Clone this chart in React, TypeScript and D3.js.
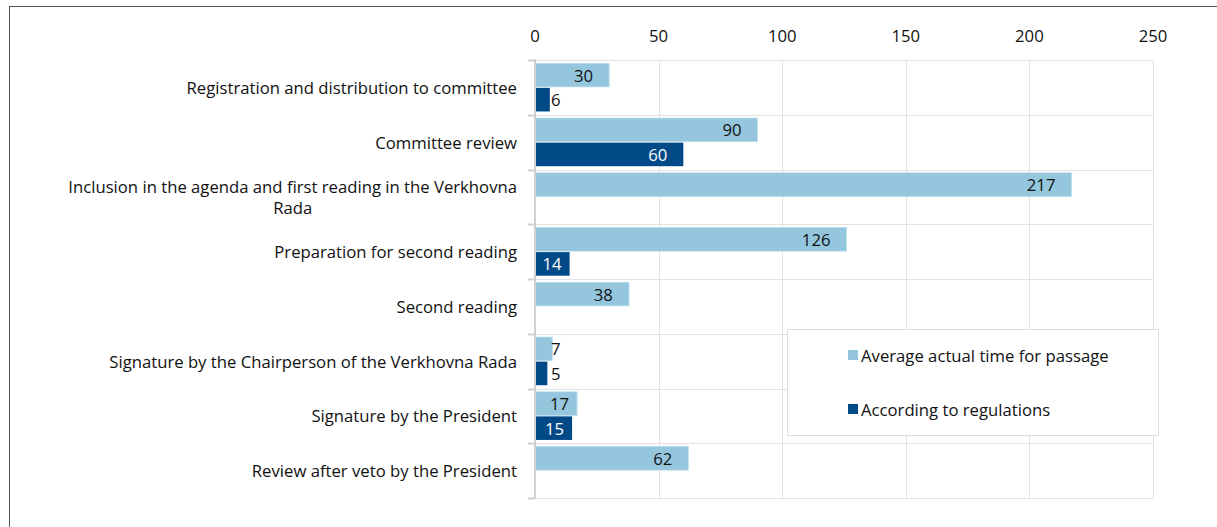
import React, { useEffect, useRef } from "react";
import * as d3 from "d3";

// Stages of the legislative process
const stages = [
  "Registration and distribution to committee",
  "Committee review",
  "Inclusion in the agenda and first reading in the Verkhovna Rada",
  "Preparation for second reading",
  "Second reading",
  "Signature by the Chairperson of the Verkhovna Rada",
  "Signature by the President",
  "Review after veto by the President",
];

// Days per stage
const actualDays = [30, 90, 217, 126, 38, 7, 17, 62];
const regulationDays: (number | null)[] = [6, 60, null, 14, null, 5, 15, null];

const xTickValues = [0, 50, 100, 150, 200, 250];

const seriesNames = ["Average actual time for passage", "According to regulations"];
const seriesColors = ["#94c6de", "#024a87"];

const W = 1217;
const H = 527;
const FONT = "'Open Sans', sans-serif";
const FS = 16.7;

export default function App() {
  const ref = useRef<SVGSVGElement | null>(null);

  useEffect(() => {
    const svg = d3.select(ref.current);
    svg.selectAll("*").remove();

    const left = 535;
    const right = 1153;
    const top = 60;
    const bottom = 498;

    const x = d3.scaleLinear().domain([0, 250]).range([left, right]);
    const y = d3.scaleBand<number>().domain(d3.range(stages.length)).range([top, bottom]).paddingInner(0);
    const sub = d3
      .scaleBand<number>()
      .domain([0, 1])
      .range([3.3, y.bandwidth() - 3.3])
      .paddingInner(0.04);

    // outer frame
    svg
      .append("rect")
      .attr("x", 9.5)
      .attr("y", 6.5)
      .attr("width", W + 20)
      .attr("height", H + 20)
      .attr("fill", "#fff")
      .attr("stroke", "#555")
      .attr("stroke-width", 1);

    const g = svg.append("g").attr("font-family", FONT).attr("font-size", FS);

    // vertical gridlines
    g.selectAll("line.vgrid")
      .data(xTickValues.filter((d) => d > 0))
      .join("line")
      .attr("x1", (d) => Math.round(x(d)) + 0.5)
      .attr("x2", (d) => Math.round(x(d)) + 0.5)
      .attr("y1", top)
      .attr("y2", bottom)
      .attr("stroke", "#e2e2e2");

    // horizontal gridlines at category boundaries
    const bounds = d3.range(stages.length + 1).map((i) => top + i * y.step());
    g.selectAll("line.hgrid")
      .data(bounds)
      .join("line")
      .attr("x1", left)
      .attr("x2", right)
      .attr("y1", (d) => Math.round(d) + 0.5)
      .attr("y2", (d) => Math.round(d) + 0.5)
      .attr("stroke", "#e2e2e2");

    // top tick labels
    g.selectAll("text.xtick")
      .data(xTickValues)
      .join("text")
      .attr("x", (d) => x(d))
      .attr("y", 35)
      .attr("text-anchor", "middle")
      .attr("dominant-baseline", "central")
      .attr("fill", "#111")
      .text((d) => String(d));

    // bars
    const seriesData = [actualDays, regulationDays];
    const barGroups = g
      .selectAll("g.series")
      .data(seriesData)
      .join("g")
      .attr("fill", (_, i) => seriesColors[i]);

    barGroups.each(function (vals, si) {
      const grp = d3.select(this);
      vals.forEach((v, ci) => {
        if (v == null) return;
        const by = (y(ci) as number) + (sub(si) as number);
        const bh = sub.bandwidth();
        grp
          .append("rect")
          .attr("x", x(0))
          .attr("y", by)
          .attr("width", x(v) - x(0))
          .attr("height", bh)
          .attr("stroke", si === 0 ? "#b9dcec" : "none")
          .attr("stroke-width", 0.8);

        const label = grp
          .append("text")
          .attr("y", by + bh / 2)
          .attr("dominant-baseline", "central")
          .text(String(v));
        const tw = (label.node() as SVGTextElement).getComputedTextLength();
        const bw = x(v) - x(0);
        let inside = true;
        if (bw >= tw + 32) {
          label.attr("x", x(v) - 16).attr("text-anchor", "end");
        } else if (bw >= tw + 12) {
          label.attr("x", x(v) - 8).attr("text-anchor", "end");
        } else {
          inside = false;
          label.attr("x", x(0) + 16).attr("text-anchor", "start");
        }
        label.attr("fill", inside && si === 1 ? "#fff" : "#111");
      });
    });

    // left axis line with ticks at category boundaries
    g.append("line")
      .attr("x1", left)
      .attr("x2", left)
      .attr("y1", top - 1)
      .attr("y2", bottom + 1)
      .attr("stroke", "#cfcfcf")
      .attr("stroke-width", 2);
    g.selectAll("line.ytick")
      .data(bounds)
      .join("line")
      .attr("x1", left - 7)
      .attr("x2", left)
      .attr("y1", (d) => Math.round(d) + 0.5)
      .attr("y2", (d) => Math.round(d) + 0.5)
      .attr("stroke", "#cfcfcf")
      .attr("stroke-width", 2);

    // category labels, wrapped and right-aligned
    const labelRight = 517;
    const maxW = 470;
    const lineH = 21;
    stages.forEach((name, i) => {
      const cy = (y(i) as number) + y.bandwidth() / 2;
      const t = g.append("text").attr("fill", "#111");
      const words = name.split(" ");
      const lines: string[] = [];
      let cur = "";
      const probe = g.append("text").attr("visibility", "hidden");
      words.forEach((w) => {
        const trial = cur ? cur + " " + w : w;
        probe.text(trial);
        if ((probe.node() as SVGTextElement).getComputedTextLength() > maxW && cur) {
          lines.push(cur);
          cur = w;
        } else {
          cur = trial;
        }
      });
      lines.push(cur);
      const widths = lines.map((l) => {
        probe.text(l);
        return (probe.node() as SVGTextElement).getComputedTextLength();
      });
      probe.remove();
      const blockW = d3.max(widths) as number;
      const cx = labelRight - blockW / 2;
      const y0 = cy - ((lines.length - 1) * lineH) / 2;
      lines.forEach((l, li) => {
        t.append("tspan")
          .attr("x", lines.length > 1 ? cx : labelRight)
          .attr("y", y0 + li * lineH)
          .attr("text-anchor", lines.length > 1 ? "middle" : "end")
          .attr("dominant-baseline", "central")
          .text(l);
      });
    });

    // legend
    const lg = g.append("g");
    lg.append("rect")
      .attr("x", 787.5)
      .attr("y", 329.5)
      .attr("width", 371)
      .attr("height", 106)
      .attr("fill", "#fff")
      .attr("stroke", "#dedede");
    const legendY = [355, 409];
    seriesNames.forEach((n, i) => {
      lg.append("rect")
        .attr("x", 848)
        .attr("y", legendY[i] - 5)
        .attr("width", 10)
        .attr("height", 10)
        .attr("fill", seriesColors[i]);
      lg.append("text")
        .attr("x", 861)
        .attr("y", legendY[i])
        .attr("dominant-baseline", "central")
        .attr("fill", "#111")
        .text(n);
    });
  }, []);

  return (
    <svg
      ref={ref}
      width={W}
      height={H}
      style={{ position: "absolute", left: 0, top: 0, background: "#fff" }}
    />
  );
}
